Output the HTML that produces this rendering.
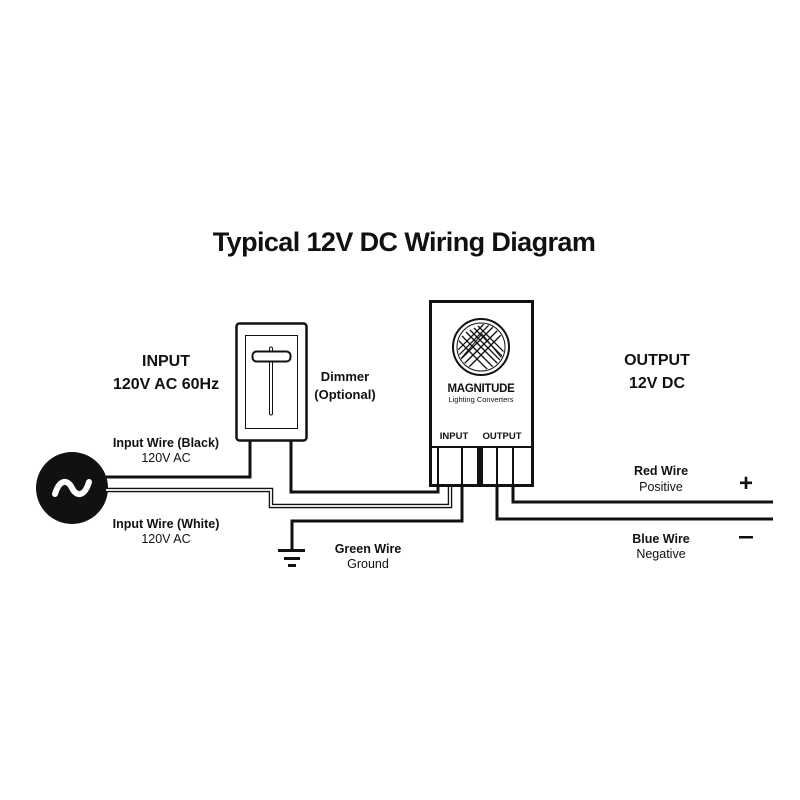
<!DOCTYPE html>
<html><head><meta charset="utf-8"><style>
html,body{margin:0;padding:0;background:#fff}
svg{display:block}
text{font-family:"Liberation Sans",sans-serif;fill:#111}
</style></head><body>
<svg width="800" height="800" viewBox="0 0 800 800" xmlns="http://www.w3.org/2000/svg">
<rect width="800" height="800" fill="#fff"/>
<text x="404" y="251" font-size="27" font-weight="bold" text-anchor="middle" letter-spacing="-0.6">Typical 12V DC Wiring Diagram</text>

<g text-anchor="middle" font-weight="bold">
<text x="166" y="366" font-size="16">INPUT</text>
<text x="166" y="389" font-size="16">120V AC 60Hz</text>
<text x="657" y="365" font-size="16">OUTPUT</text>
<text x="657" y="388" font-size="16">12V DC</text>
<text x="345" y="381" font-size="13">Dimmer</text>
<text x="345" y="399" font-size="13">(Optional)</text>
<text x="166" y="447" font-size="12.5">Input Wire (Black)</text>
<text x="166" y="528" font-size="12.5">Input Wire (White)</text>
<text x="368" y="553" font-size="12.5">Green Wire</text>
<text x="661" y="475" font-size="12.5">Red Wire</text>
<text x="661" y="543" font-size="12.5">Blue Wire</text>
</g>
<g text-anchor="middle" font-size="12.5">
<text x="166" y="462">120V AC</text>
<text x="166" y="543">120V AC</text>
<text x="368" y="568">Ground</text>
<text x="661" y="491">Positive</text>
<text x="661" y="558">Negative</text>
</g>
<text x="746" y="491" font-size="24" font-weight="bold" text-anchor="middle">+</text>
<rect x="739" y="536" width="14" height="2.5" fill="#111"/>

<!-- AC source -->
<circle cx="72" cy="488" r="36" fill="#111"/>
<path d="M55 494 C60 478,68 480,72 488 C76 496,84 498,89 482" stroke="#fff" stroke-width="6" fill="none" stroke-linecap="round"/>

<g fill="none" stroke="#111" stroke-width="3">
<polyline points="106,477 250,477 250,441"/>
<polyline points="291,441 291,492 438,492 438,485"/>
<polyline points="292,550 292,521 462,521 462,485"/>
<polyline points="513,485 513,502 773,502"/>
<polyline points="497,485 497,519 773,519"/>
</g>
<polyline points="106,490 271,490 271,506 450,506 450,470" fill="none" stroke="#111" stroke-width="4.5"/>
<polyline points="106,490 271,490 271,506 450,506 450,470" fill="none" stroke="#fff" stroke-width="1.8"/>

<!-- ground -->
<rect x="278" y="549" width="27" height="3" fill="#111"/>
<rect x="284" y="557" width="16" height="3" fill="#111"/>
<rect x="288" y="564" width="8" height="3" fill="#111"/>

<!-- dimmer -->
<rect x="236.5" y="323.5" width="70" height="117" rx="3" fill="#fff" stroke="#111" stroke-width="2.5"/>
<rect x="245.5" y="335.5" width="52" height="93" fill="#fff" stroke="#111" stroke-width="1"/>
<rect x="269.5" y="347" width="3" height="68" rx="1.5" fill="#fff" stroke="#111" stroke-width="1"/>
<rect x="252.5" y="351.5" width="38" height="10" rx="4" fill="#fff" stroke="#111" stroke-width="2"/>

<!-- converter box -->
<rect x="430.5" y="301.5" width="102" height="184" fill="#fff" stroke="#111" stroke-width="3"/>
<line x1="430" y1="447" x2="533" y2="447" stroke="#111" stroke-width="2"/>
<g stroke="#111" stroke-width="2">
<line x1="438" y1="447" x2="438" y2="485"/>
<line x1="462" y1="447" x2="462" y2="485"/>
<line x1="497" y1="447" x2="497" y2="485"/>
<line x1="513" y1="447" x2="513" y2="485"/>
</g>
<rect x="477" y="447" width="6" height="38" fill="#111"/>
<text x="454" y="439" font-size="9.5" font-weight="bold" text-anchor="middle">INPUT</text>
<text x="502" y="439" font-size="9.5" font-weight="bold" text-anchor="middle">OUTPUT</text>
<circle cx="481" cy="347" r="28" fill="#fff" stroke="#111" stroke-width="2"/>
<circle cx="481" cy="347" r="24" fill="#fff" stroke="#111" stroke-width="1"/>
<clipPath id="lc"><circle cx="481" cy="347" r="23"/></clipPath>
<g clip-path="url(#lc)" stroke="#111" stroke-width="1.3">
<path d="M458 362 L482 334 L505 362" fill="none" stroke-width="1"/>
<line x1="470" y1="330" x2="505" y2="365"/><line x1="474" y1="328" x2="509" y2="363"/>
<line x1="478" y1="326" x2="513" y2="361"/><line x1="466" y1="332" x2="501" y2="367"/>
<line x1="462" y1="336" x2="497" y2="371"/><line x1="458" y1="340" x2="493" y2="375"/>
<line x1="495" y1="325" x2="460" y2="360"/><line x1="499" y1="329" x2="464" y2="364"/>
<line x1="503" y1="333" x2="468" y2="368"/><line x1="491" y1="323" x2="456" y2="358"/>
<line x1="487" y1="321" x2="452" y2="356"/>
</g>
<text x="481" y="392" font-size="11.5" font-weight="bold" text-anchor="middle" letter-spacing="-0.3">MAGNITUDE</text>
<text x="481" y="402" font-size="7.5" text-anchor="middle">Lighting Converters</text>
</svg>
</body></html>
